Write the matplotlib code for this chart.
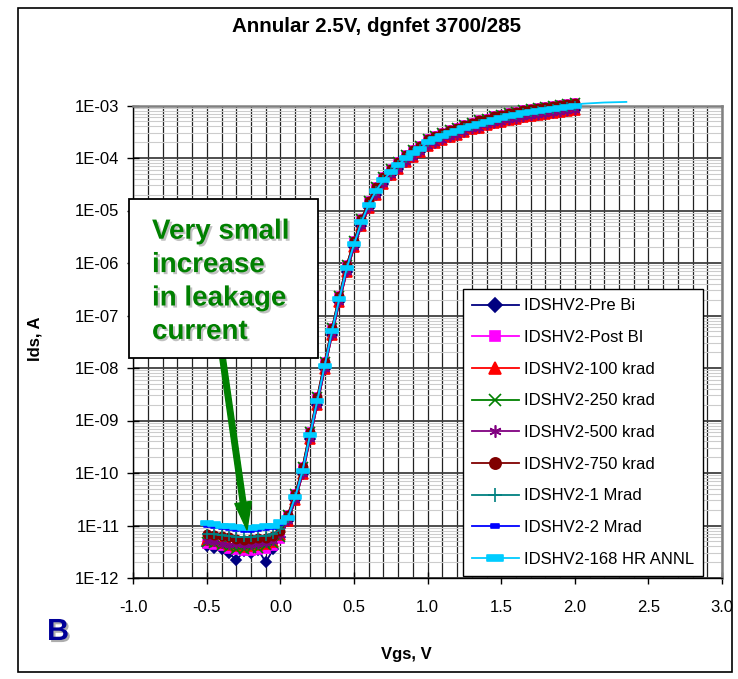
import numpy as np
import matplotlib
matplotlib.use("Agg")
import matplotlib.pyplot as plt
from matplotlib.path import Path
from matplotlib.patches import Rectangle, FancyArrowPatch
from matplotlib.ticker import FixedLocator, MultipleLocator, LogLocator, NullFormatter
import matplotlib.patheffects as pe

plt.rcParams['font.family'] = ['Liberation Sans', 'DejaVu Sans']

# --- data ---
vgs = [-0.5, -0.45, -0.4, -0.35, -0.3, -0.25, -0.2, -0.15, -0.1, -0.05, 0.0,
       0.05, 0.1, 0.15, 0.2, 0.25, 0.3, 0.35, 0.4, 0.45, 0.5,
       0.55, 0.6, 0.65, 0.7, 0.75, 0.8, 0.85, 0.9, 0.95, 1.0,
       1.05, 1.1, 1.15, 1.2, 1.25, 1.3, 1.35, 1.4, 1.45, 1.5,
       1.55, 1.6, 1.65, 1.7, 1.75, 1.8, 1.85, 1.9, 1.95, 2.0]
vgs_annl_tail = [2.05, 2.1, 2.15, 2.2, 2.25, 2.3, 2.35]

# leakage part, Vgs -0.5 .. 0.0
leak_pre_bi = [4.0e-12, 3.8e-12, 3.5e-12, 3.0e-12, 2.2e-12, 3.2e-12, 3.0e-12, 3.4e-12, 2.0e-12, 3.5e-12, 6.0e-12]
leak_post_bi = [4.5e-12, 4.2e-12, 4.0e-12, 3.6e-12, 3.4e-12, 3.2e-12, 3.3e-12, 3.4e-12, 3.6e-12, 4.0e-12, 5.5e-12]
leak_100k = [5.2e-12, 5.0e-12, 4.6e-12, 4.2e-12, 4.0e-12, 3.9e-12, 4.0e-12, 4.2e-12, 4.5e-12, 4.8e-12, 6.5e-12]
leak_250k = [4.8e-12, 4.6e-12, 4.2e-12, 3.9e-12, 3.6e-12, 3.6e-12, 3.7e-12, 3.8e-12, 4.2e-12, 4.6e-12, 6.0e-12]
leak_500k = [5.0e-12, 4.8e-12, 4.5e-12, 4.3e-12, 4.4e-12, 4.2e-12, 4.3e-12, 4.4e-12, 4.6e-12, 5.0e-12, 6.5e-12]
leak_750k = [6.8e-12, 6.5e-12, 6.2e-12, 6.0e-12, 5.6e-12, 5.4e-12, 5.5e-12, 5.7e-12, 5.9e-12, 6.4e-12, 8.0e-12]
leak_1m = [7.0e-12, 6.8e-12, 6.5e-12, 6.3e-12, 6.1e-12, 6.0e-12, 6.0e-12, 6.2e-12, 6.4e-12, 6.8e-12, 8.5e-12]
leak_2m = [1.0e-11, 9.5e-12, 9.0e-12, 8.6e-12, 8.3e-12, 8.0e-12, 8.0e-12, 8.3e-12, 8.6e-12, 9.0e-12, 1.05e-11]
leak_annl = [1.1e-11, 1.05e-11, 1.0e-11, 9.6e-12, 9.2e-12, 9.0e-12, 9.0e-12, 9.2e-12, 9.6e-12, 1.0e-11, 1.15e-11]

# turn-on part, Vgs 0.05 .. 2.0 (three slightly different groups)
on_mid = [1.4e-11, 3.5e-11, 1.1e-10, 5.2e-10, 2.4e-9, 1.1e-8, 5.0e-8, 2.1e-7, 7.9e-7, 2.3e-6,
          6.0e-6, 1.3e-5, 2.4e-5, 3.8e-5, 5.5e-5, 7.4e-5, 9.8e-5, 1.23e-4, 1.5e-4, 2.0e-4,
          2.3e-4, 2.6e-4, 2.95e-4, 3.3e-4, 3.7e-4, 4.1e-4, 4.5e-4, 4.9e-4, 5.4e-4, 5.75e-4,
          6.2e-4, 6.6e-4, 7.1e-4, 7.4e-4, 7.8e-4, 8.1e-4, 8.5e-4, 8.9e-4, 9.3e-4, 9.8e-4]
on_hi = [1.6e-11, 4.0e-11, 1.3e-10, 6.0e-10, 2.8e-9, 1.3e-8, 5.7e-8, 2.4e-7, 9.1e-7, 2.6e-6,
         6.9e-6, 1.5e-5, 2.8e-5, 4.4e-5, 6.3e-5, 8.5e-5, 1.13e-4, 1.41e-4, 1.73e-4, 2.3e-4,
         2.65e-4, 3.0e-4, 3.4e-4, 3.8e-4, 4.25e-4, 4.7e-4, 5.2e-4, 5.6e-4, 6.2e-4, 6.6e-4,
         7.1e-4, 7.6e-4, 8.2e-4, 8.5e-4, 9.0e-4, 9.3e-4, 9.8e-4, 1.02e-3, 1.07e-3, 1.13e-3]
on_lo = [1.2e-11, 3.0e-11, 9.4e-11, 4.4e-10, 2.0e-9, 9.4e-9, 4.3e-8, 1.8e-7, 6.7e-7, 2.0e-6,
         5.1e-6, 1.1e-5, 2.0e-5, 3.2e-5, 4.7e-5, 6.3e-5, 8.3e-5, 1.05e-4, 1.28e-4, 1.7e-4,
         1.96e-4, 2.2e-4, 2.5e-4, 2.8e-4, 3.15e-4, 3.5e-4, 3.8e-4, 4.2e-4, 4.6e-4, 4.9e-4,
         5.3e-4, 5.6e-4, 6.0e-4, 6.3e-4, 6.6e-4, 6.9e-4, 7.2e-4, 7.6e-4, 7.9e-4, 8.3e-4]
annl_tail = [1.08e-3, 1.1e-3, 1.12e-3, 1.14e-3, 1.15e-3, 1.16e-3, 1.17e-3]

labels = ["IDSHV2-Pre Bi", "IDSHV2-Post BI", "IDSHV2-100 krad", "IDSHV2-250 krad",
          "IDSHV2-500 krad", "IDSHV2-750 krad", "IDSHV2-1 Mrad", "IDSHV2-2 Mrad",
          "IDSHV2-168 HR ANNL"]

x_ticks = [-1.0, -0.5, 0.0, 0.5, 1.0, 1.5, 2.0, 2.5, 3.0]
x_ticklabels = ["-1.0", "-0.5", "0.0", "0.5", "1.0", "1.5", "2.0", "2.5", "3.0"]
y_ticks = [1e-12, 1e-11, 1e-10, 1e-9, 1e-8, 1e-7, 1e-6, 1e-5, 1e-4, 1e-3]
y_ticklabels = ["1E-12", "1E-11", "1E-10", "1E-09", "1E-08", "1E-07", "1E-06", "1E-05", "1E-04", "1E-03"]

note_lines = ["Very small", "increase", "in leakage", "current"]

# --- markers ---
def rect_marker(h):
    return Path([(-1, -h), (1, -h), (1, h), (-1, h), (-1, -h)],
                [Path.MOVETO, Path.LINETO, Path.LINETO, Path.LINETO, Path.CLOSEPOLY])

W, H = 738, 679
fig = plt.figure(figsize=(W / 100, H / 100), dpi=100)
ax = fig.add_axes([133.3 / W, 1 - 578 / H, (722 - 133.3) / W, (578 - 105.5) / H])

series = [
    (leak_pre_bi + on_lo, "#000080", "D", 5.5, None),
    (leak_post_bi + on_hi, "#FF00FF", "s", 5.5, None),
    (leak_100k + on_lo, "#FF0000", "^", 6.5, None),
    (leak_250k + on_hi, "#008000", "x", 6.5, None),
    (leak_500k + on_lo, "#800080", (6, 2, 0), 6.5, None),
    (leak_750k + on_hi, "#800000", "o", 6, None),
    (leak_1m + on_mid, "#008080", "+", 7.5, None),
    (leak_2m + on_mid, "#0000FF", rect_marker(0.5), 4, None),
    (leak_annl + on_mid + annl_tail, "#00CCFF", rect_marker(0.38), 8.5, slice(0, len(vgs))),
]

for (vals, col, mk, ms, mev), lab in zip(series, labels):
    xs = vgs + vgs_annl_tail if len(vals) > len(vgs) else vgs
    ax.plot(xs, vals, color=col, lw=1.3, marker=mk, ms=ms, mfc=col, mec=col,
            mew=1.2, label=lab, markevery=mev, clip_on=False, zorder=3)

ax.set_yscale("log")
ax.set_xlim(-1.0, 3.0)
ax.set_ylim(1e-12, 1e-3)

ax.xaxis.set_major_locator(FixedLocator(x_ticks))
ax.set_xticklabels(x_ticklabels)
ax.xaxis.set_minor_locator(MultipleLocator(0.1))
ax.yaxis.set_major_locator(FixedLocator(y_ticks))
ax.set_yticklabels(y_ticklabels)
ax.yaxis.set_minor_locator(LogLocator(base=10, subs=np.arange(2, 10), numticks=100))
ax.yaxis.set_minor_formatter(NullFormatter())

ax.grid(which="both", axis="x", color="#222222", lw=0.9)
ax.grid(which="major", axis="y", color="#404040", lw=1.3)
ax.grid(which="minor", axis="y", color="#cccccc", lw=0.8)
ax.set_axisbelow(True)

ax.tick_params(which="major", direction="inout", length=8, width=1, labelsize=12)
ax.tick_params(axis="x", which="major", pad=12)
ax.tick_params(axis="y", which="major", pad=6)
ax.tick_params(which="minor", length=0)
for s in ["left", "bottom"]:
    ax.spines[s].set_color("black")
    ax.spines[s].set_linewidth(1)
for s in ["top", "right"]:
    ax.spines[s].set_color("#808080")
    ax.spines[s].set_linewidth(1.8)

leg = ax.legend(loc="upper left", bbox_to_anchor=(0.5595, 0.611), borderaxespad=0,
                fontsize=12, labelspacing=1.0, handlelength=2.8, handletextpad=0.3,
                borderpad=0.55, fancybox=False, framealpha=1, edgecolor="black",
                markerscale=1.35)
leg.get_frame().set_linewidth(1.0)
leg.set_zorder(6)

# --- text ---
fig.text(376 / W, 1 - 27 / H, "Annular 2.5V, dgnfet 3700/285", ha="center", va="center",
         fontsize=14.8, fontweight="bold")
fig.text(35 / W, 1 - 339 / H, "Ids, A", rotation=90, ha="center", va="center",
         fontsize=12, fontweight="bold")
fig.text(406 / W, 1 - 655 / H, "Vgs, V", ha="center", va="center",
         fontsize=12, fontweight="bold")
fig.text(58 / W, 1 - 632 / H, "B", ha="center", va="center", fontsize=22,
         fontweight="bold", color="#000099",
         path_effects=[pe.SimplePatchShadow(offset=(1.5, -1.5), shadow_rgbFace="#999999", alpha=0.8), pe.Normal()])

# annotation box with arrow
arrow = FancyArrowPatch((222.6 / W, 1 - 358 / H), (247 / W, 1 - 530 / H),
                        transform=fig.transFigure, arrowstyle="simple,head_length=1.0,head_width=0.6,tail_width=0.2",
                        mutation_scale=20, color="#008000", shrinkA=0, shrinkB=0, zorder=9)
fig.add_artist(arrow)
box = Rectangle((129 / W, 1 - 358.3 / H), (318.3 - 129) / W, (358.3 - 199.3) / H,
                transform=fig.transFigure, fc="white", ec="black", lw=1.3, zorder=10)
fig.add_artist(box)
for i, line in enumerate(note_lines):
    fig.text(152 / W, 1 - (231.7 + 33.4 * i) / H, line, ha="left", va="center",
             fontsize=20, fontweight="bold", color="#008000", zorder=11,
             path_effects=[pe.SimplePatchShadow(offset=(1.5, -1.5), shadow_rgbFace="#999999", alpha=0.6), pe.Normal()])

# outer frame
fig.add_artist(Rectangle((18 / W, 1 - 672 / H), (732 - 18) / W, (672 - 8) / H,
                         transform=fig.transFigure, fill=False, ec="black", lw=1.2, zorder=12))

fig.savefig("out.png", dpi=100)
